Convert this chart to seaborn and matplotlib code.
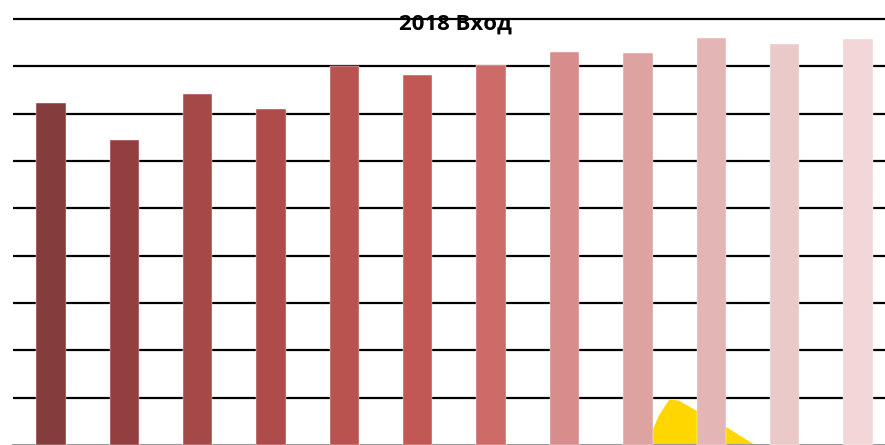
import matplotlib.pyplot as plt
import numpy as np
import pandas as pd
import seaborn as sns

# Values (one grid step = 1 unit), axis labels are not shown
months = ['1', '2', '3', '4', '5', '6', '7', '8', '9', '10', '11', '12']
values = [7.23, 6.44, 7.42, 7.10, 8.01, 7.82, 8.03, 8.30, 8.29, 8.60, 8.47, 8.58]
bar_colors = ['#853c3c', '#943f3f', '#a44848', '#ae4c4c', '#b9534f', '#c25853',
              '#cd6b68', '#d68d8b', '#dca3a0', '#e4b5b5', '#ebc9c9', '#f3d6d8']

# Yellow shape poking up from below, behind the bars
shape_x = [8.11, 8.21, 8.28, 8.42, 8.55, 8.81, 9.21, 9.60]
shape_y = [0.0, 0.38, 0.63, 0.97, 0.95, 0.72, 0.38, 0.0]

sns.set_theme(style='white')
plt.rcParams['font.family'] = ['Open Sans', 'DejaVu Sans']

fig = plt.figure(figsize=(8.85, 4.45), dpi=100)
ax = fig.add_axes([13 / 885, 0, 872 / 885, 1])

df = pd.DataFrame({'month': months, 'value': values})
sns.barplot(data=df, x='month', y='value', hue='month', palette=bar_colors,
            legend=False, width=0.4, saturation=1, ax=ax, zorder=3,
            edgecolor='white', linewidth=0.3)

ax.fill_between(shape_x, 0, shape_y, color='#ffd600', linewidth=0, zorder=2)

ax.set_xlim(-0.518, 11.369)
ax.set_ylim(0, 9.4)
ax.set_yticks(np.arange(1, 10))
ax.yaxis.grid(True, color='black', linewidth=1.6)
ax.set_axisbelow(True)
ax.tick_params(left=False, bottom=False, labelleft=False, labelbottom=False)
ax.set_xlabel('')
ax.set_ylabel('')
sns.despine(ax=ax, left=True)
ax.spines['bottom'].set_color('#9a9a9a')
ax.spines['bottom'].set_linewidth(1.5)

fig.text(455.5 / 885, 1 - 24 / 445, '2018 Вход', ha='center', va='center',
         fontsize=16, fontweight='bold', color='black', zorder=10)

fig.savefig('out.png', dpi=100)
